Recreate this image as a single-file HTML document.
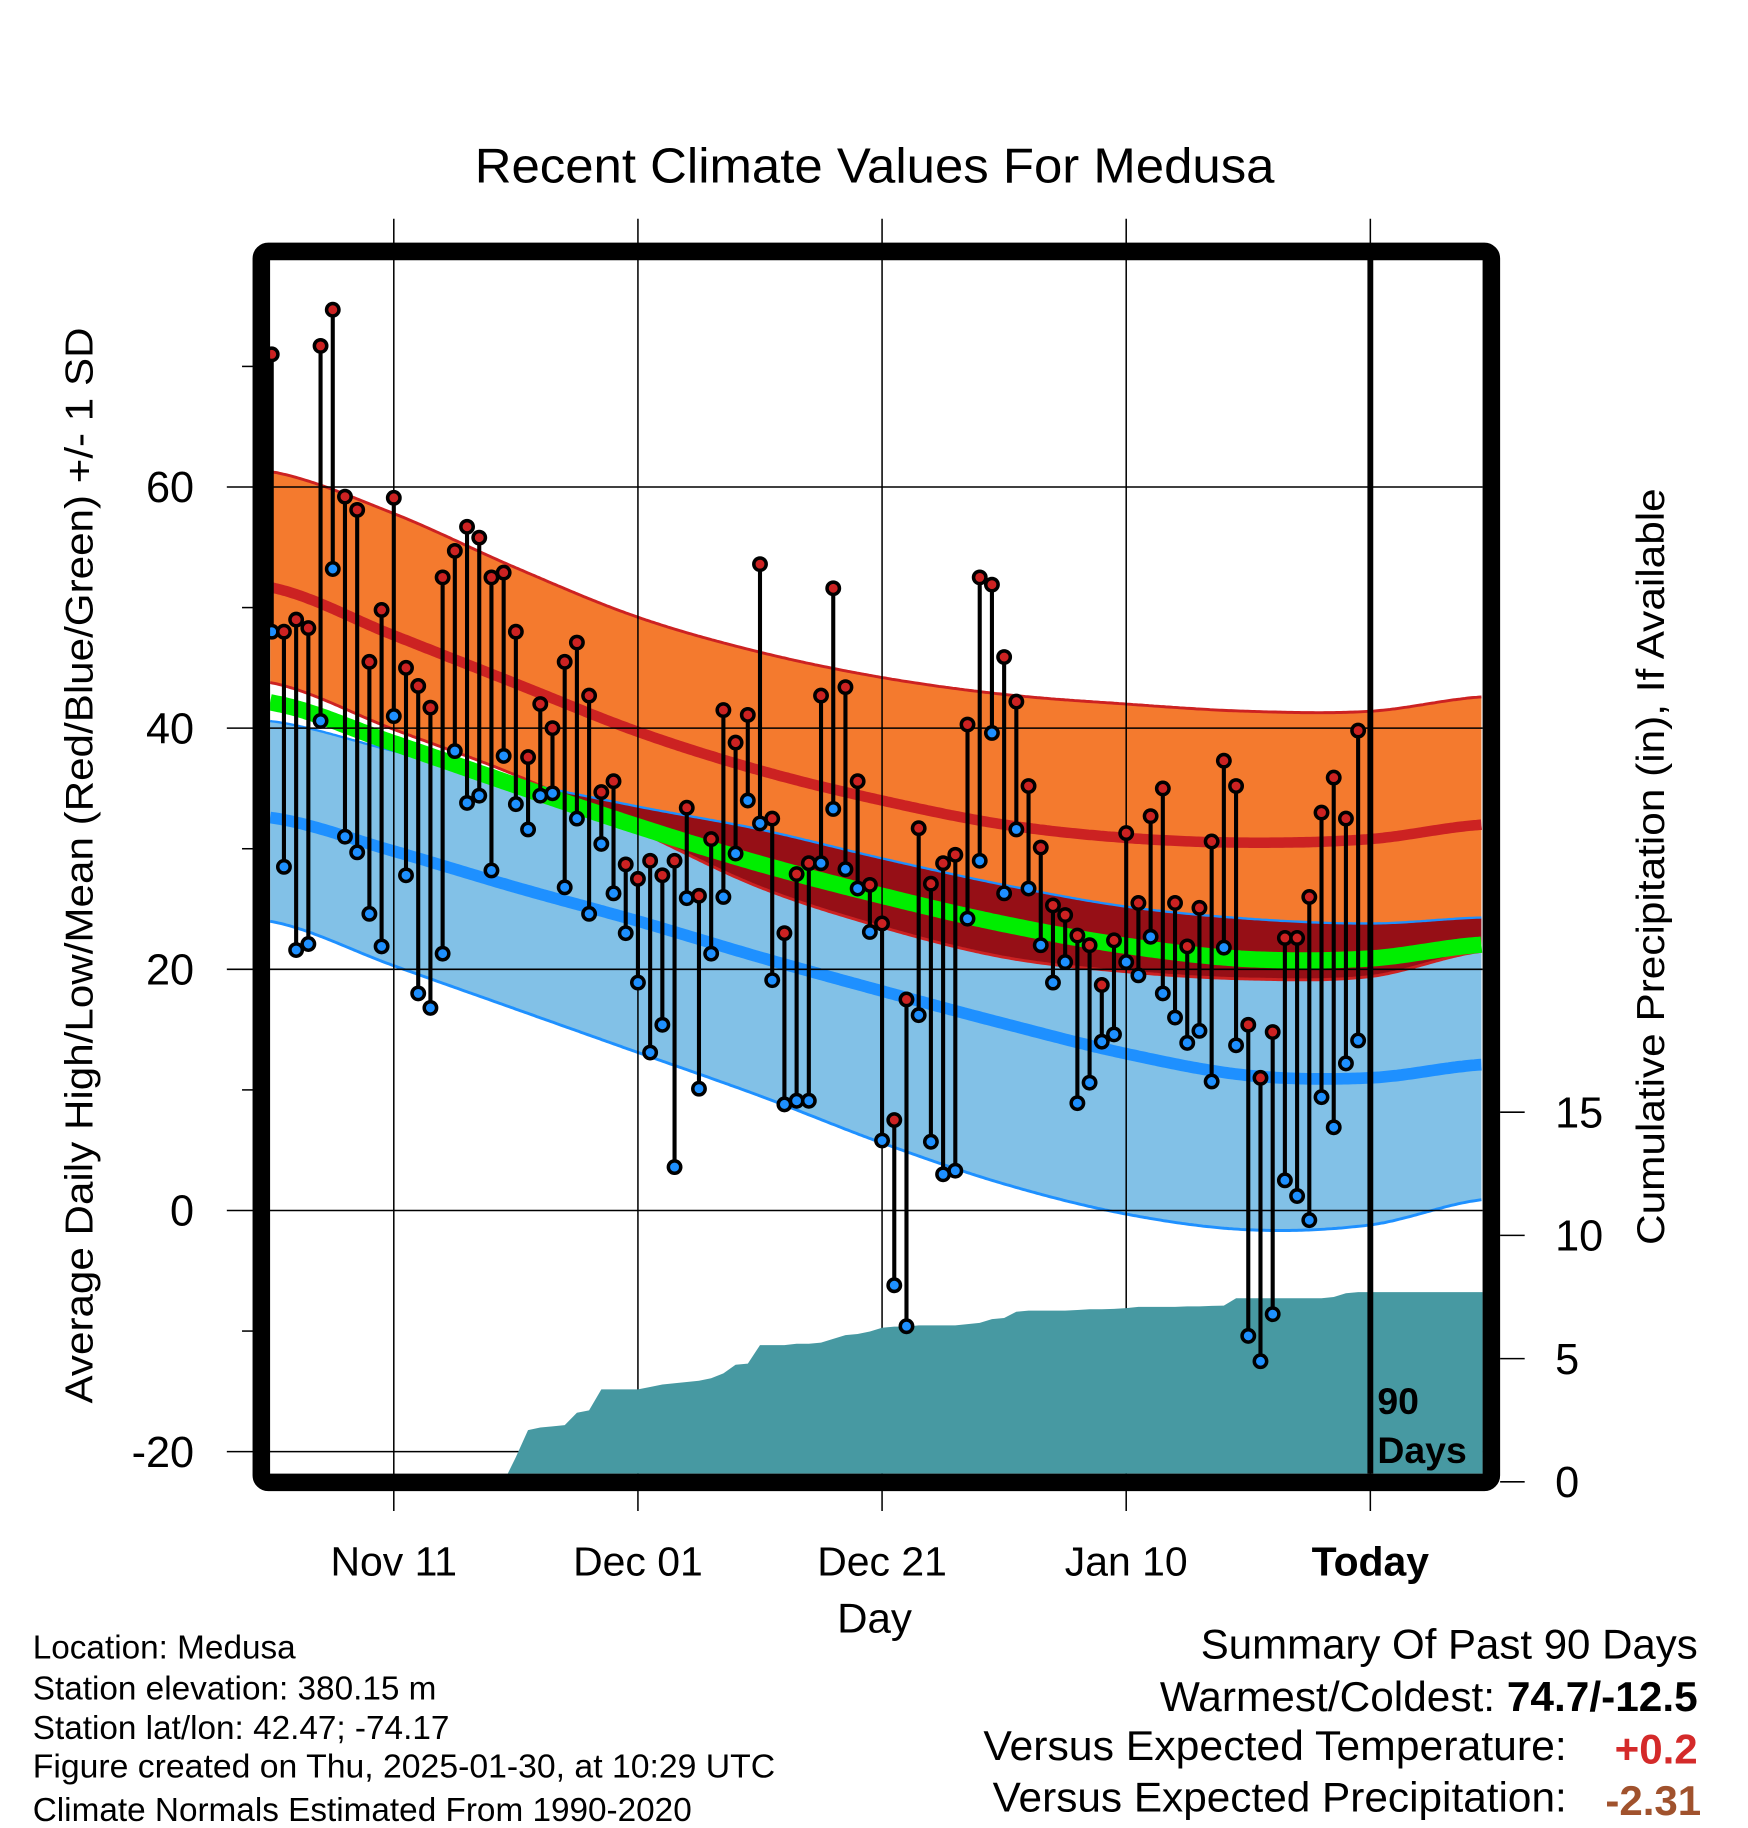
<!DOCTYPE html>
<html><head><meta charset="utf-8">
<style>
html,body{margin:0;padding:0;background:#fff;}
svg{display:block;font-family:"Liberation Sans",Arial,sans-serif;}
</style></head>
<body>
<svg id="chart" xmlns="http://www.w3.org/2000/svg" width="1748" height="1828" viewBox="0 0 1495 1563" preserveAspectRatio="none">
  <g id="bands"></g>
  <g id="grid"></g>
  <g id="precip"></g>
  <g id="marks"></g>
  <rect x="223.5" y="215" width="1052" height="1052.5" rx="6" fill="none" stroke="#000" stroke-width="15"/>
  <g id="labels">
    <text x="748" y="156" font-size="42" text-anchor="middle" textLength="684" lengthAdjust="spacingAndGlyphs">Recent Climate Values For Medusa</text>
    <text transform="translate(79,740) rotate(-90)" font-size="33" text-anchor="middle" textLength="920" lengthAdjust="spacingAndGlyphs">Average Daily High/Low/Mean (Red/Blue/Green) +/- 1 SD</text>
    <text transform="translate(1423,741) rotate(-90)" font-size="33" text-anchor="middle" textLength="647" lengthAdjust="spacingAndGlyphs">Cumulative Precipitation (in), If Available</text>
    <text x="748" y="1396" font-size="36" text-anchor="middle">Day</text>
    <text x="1178" y="1209" font-size="32" font-weight="bold">90</text>
    <text x="1178" y="1251" font-size="32" font-weight="bold">Days</text>
  </g>
  <g font-size="28.5">
    <text x="28" y="1418">Location: Medusa</text>
    <text x="28" y="1453">Station elevation: 380.15 m</text>
    <text x="28" y="1487">Station lat/lon: 42.47; -74.17</text>
    <text x="28" y="1520" textLength="635" lengthAdjust="spacingAndGlyphs">Figure created on Thu, 2025-01-30, at 10:29 UTC</text>
    <text x="28" y="1557">Climate Normals Estimated From 1990-2020</text>
  </g>
  <g font-size="36">
    <text x="1452" y="1418" text-anchor="end" textLength="425" lengthAdjust="spacingAndGlyphs">Summary Of Past 90 Days</text>
    <text x="1452" y="1463" text-anchor="end" textLength="460" lengthAdjust="spacingAndGlyphs">Warmest/Coldest: <tspan font-weight="bold">74.7/-12.5</tspan></text>
    <text x="1340" y="1505" text-anchor="end" textLength="499" lengthAdjust="spacingAndGlyphs">Versus Expected Temperature:</text>
    <text x="1452" y="1508" text-anchor="end" font-weight="bold" fill="#d42a2a">+0.2</text>
    <text x="1340" y="1549" text-anchor="end" textLength="491" lengthAdjust="spacingAndGlyphs">Versus Expected Precipitation:</text>
    <text x="1455" y="1552" text-anchor="end" font-weight="bold" fill="#a0522d">-2.31</text>
  </g>
</svg>
<script>
// ---- data ----
const highs = [71,48,49,48.3,71.7,74.7,59.2,58.1,45.5,49.8,59.1,45,43.5,41.7,52.5,54.7,56.7,55.8,52.5,52.9,48,37.6,42,40,45.5,47.1,42.7,34.7,35.6,28.7,27.5,29,27.8,29,33.4,26.1,30.8,41.5,38.8,41.1,53.6,32.5,23,27.9,28.8,42.7,51.6,43.4,35.6,27,23.8,7.5,17.5,31.7,27.1,28.8,29.5,40.3,52.5,51.9,45.9,42.2,35.2,30.1,25.3,24.5,22.8,22,18.7,22.4,31.3,25.5,32.7,35,25.5,21.9,25.1,30.6,37.3,35.2,15.4,11,14.8,22.6,22.6,26,33,35.9,32.5,39.8];
const lows = [48,28.5,21.6,22.1,40.6,53.2,31,29.7,24.6,21.9,41,27.8,18,16.8,21.3,38.1,33.8,34.4,28.2,37.7,33.7,31.6,34.4,34.6,26.8,32.5,24.6,30.4,26.3,23,18.9,13.1,15.4,3.6,25.9,10.1,21.3,26,29.6,34,32.1,19.1,8.8,9.1,9.1,28.8,33.3,28.3,26.7,23.1,5.8,-6.2,-9.6,16.2,5.7,3,3.3,24.2,29,39.6,26.3,31.6,26.7,22,18.9,20.6,8.9,10.6,14,14.6,20.6,19.5,22.7,18,16,13.9,14.9,10.7,21.8,13.7,-10.4,-12.5,-8.6,2.5,1.2,-0.8,9.4,6.9,12.2,14.1];
const precipCum = [0,0,0,0,0,0,0,0,0,0,0,0,0,0,0,0,0,0,0,0,1.0,2.1,2.2,2.25,2.3,2.8,2.9,3.75,3.75,3.75,3.75,3.85,3.95,4.0,4.05,4.1,4.2,4.4,4.75,4.8,5.55,5.55,5.55,5.6,5.6,5.65,5.8,5.95,6.0,6.1,6.25,6.3,6.3,6.35,6.35,6.35,6.35,6.4,6.45,6.6,6.65,6.9,6.95,6.95,6.95,6.95,6.97,7.0,7.0,7.02,7.05,7.1,7.1,7.1,7.1,7.12,7.12,7.14,7.15,7.45,7.45,7.45,7.45,7.45,7.45,7.45,7.45,7.5,7.65,7.7];
const normDays = [-90.2,-80,-70,-60,-50,-40,-30,-20,-10,0,9.2];
const hiUpper = [61.3,57.8,53.3,49.2,46.3,44.2,42.8,42.0,41.4,41.4,42.6];
const hiMean  = [51.7,47.7,43.7,39.7,36.5,34.0,32.0,30.9,30.5,30.8,32.0];
const hiLower = [43.8,39.9,36.1,31.5,26.8,23.5,21.0,19.8,19.2,19.4,21.5];
const loUpper = [40.6,38.1,35.6,33.5,31.6,29.2,27.0,25.2,24.2,23.8,24.3];
const loMean  = [32.6,29.8,26.8,24.0,21.0,18.2,15.5,13.0,11.2,11.0,12.1];
const loLower = [24.0,20.3,16.7,13.1,9.5,5.6,2.2,-0.3,-1.6,-1.2,0.9];
const yTicks = [60,40,20,0,-20];
const yMinor = [70,50,30,10,-10];
const pTicks = [0,5,10,15];
const xTickDays = [-80,-60,-40,-20,0];
const xTickLabels = ["Nov 11","Dec 01","Dec 21","Jan 10","Today"];

// ---- scales ----
const NS = "http://www.w3.org/2000/svg";
const X0 = 231, X1 = 1268, Y0 = 222, Y1 = 1260;
function xs(d){ return 1172 + d*10.44; }
function ys(v){ return 1035 - v*10.31; }
function ps(p){ return 1267 - p*21.07; }
function mk(tag, attrs, parent){ const e=document.createElementNS(NS,tag); for(const k in attrs) e.setAttribute(k,attrs[k]); parent.appendChild(e); return e; }
function interp(arr, d){
  let i=0; while(i<normDays.length-2 && d>normDays[i+1]) i++;
  const t=(d-normDays[i])/(normDays[i+1]-normDays[i]);
  const p0=arr[Math.max(i-1,0)], p1=arr[i], p2=arr[i+1], p3=arr[Math.min(i+2,arr.length-1)];
  const t2=t*t, t3=t2*t;
  return 0.5*((2*p1)+(-p0+p2)*t+(2*p0-5*p1+4*p2-p3)*t2+(-p0+3*p1-3*p2+p3)*t3);
}
const sampDays=[]; for(let x=X0;x<=X1;x+=2){ sampDays.push((x-1172)/10.44); }
function line(arr){ return sampDays.map(d=>xs(d).toFixed(1)+","+ys(interp(arr,d)).toFixed(1)); }
function band(top,bot){ return line(top).concat(line(bot).reverse()).join(" "); }

const bands=document.getElementById('bands');
let e;
e=mk('polygon',{points:band(hiUpper,hiLower),fill:'#f47a2e'},bands);


e=mk('polygon',{points:band(loUpper,loLower),fill:'#82c1e7'},bands);


const ovTop=sampDays.map(d=>xs(d).toFixed(1)+","+ys(Math.max(interp(loUpper,d),interp(hiLower,d))).toFixed(1));
const ovBot=sampDays.map(d=>xs(d).toFixed(1)+","+ys(interp(hiLower,d)).toFixed(1)).reverse();
e=mk('polygon',{points:ovTop.concat(ovBot).join(" "),fill:'#960f16'},bands);


e=mk('polyline',{points:line(hiUpper).join(" "),fill:'none',stroke:'#cc2222','stroke-width':2.5},bands);


e=mk('polyline',{points:line(hiLower).join(" "),fill:'none',stroke:'#cc2222','stroke-width':2.5},bands);


e=mk('polyline',{points:line(loUpper).join(" "),fill:'none',stroke:'#1e90ff','stroke-width':2},bands);


e=mk('polyline',{points:line(loLower).join(" "),fill:'none',stroke:'#1e90ff','stroke-width':2.5},bands);


const meanAvg=hiMean.map((v,i)=>(v+loMean[i])/2);
e=mk('polyline',{points:line(meanAvg).join(" "),fill:'none',stroke:'#00ee00','stroke-width':14},bands);


e=mk('polyline',{points:line(hiMean).join(" "),fill:'none',stroke:'#cc2222','stroke-width':9},bands);


e=mk('polyline',{points:line(loMean).join(" "),fill:'none',stroke:'#1e90ff','stroke-width':10},bands);



// grid + ticks
const grid=document.getElementById('grid');
const labels=document.getElementById('labels');
yTicks.forEach(v=>{
  e=mk('line',{x1:194,x2:X1,y1:ys(v),y2:ys(v),stroke:'#000','stroke-width':1.3},grid);
  
  
  e=mk('text',{x:166,y:ys(v)+13,'font-size':37,'text-anchor':'end'},labels);
  e.textContent=String(v);
  
  
});
yMinor.forEach(v=>{
  e=mk('line',{x1:207,x2:217,y1:ys(v),y2:ys(v),stroke:'#000','stroke-width':1.3},grid);
  
  
});
xTickDays.forEach((d,i)=>{
  e=mk('line',{x1:xs(d),x2:xs(d),y1:187,y2:1292,stroke:'#000','stroke-width':1.3},grid);
  
  
  e=mk('text',{x:xs(d),y:1347,'font-size':35,'text-anchor':'middle','font-weight':i===4?'bold':'normal'},labels);
  e.textContent=xTickLabels[i];
  
  
});
pTicks.forEach(p=>{
  e=mk('line',{x1:1283,x2:1304,y1:ps(p),y2:ps(p),stroke:'#000','stroke-width':1.3},grid);
  
  
  e=mk('text',{x:1330,y:ps(p)+13,'font-size':37},labels);
  e.textContent=String(p);
  
  
});

// precip
const pg=document.getElementById('precip');
let pts=[];
let started=false;
precipCum.forEach((p,i)=>{
  const d=i-90;
  if(!started && precipCum[i+1]>0){ started=true; }
  if(started) pts.push(xs(d).toFixed(1)+","+ps(p).toFixed(1));
});
const firstIdx=precipCum.findIndex(p=>p>0)-1;
pts.push(X1+","+ps(precipCum[precipCum.length-1]).toFixed(1));
pts.push(X1+","+ps(0)); pts.push(xs(firstIdx-90).toFixed(1)+","+ps(0));
e=mk('polygon',{points:pts.join(" "),fill:'#4799a2'},pg);



// marks
const mg=document.getElementById('marks');
e=mk('line',{x1:1172,x2:1172,y1:Y0,y2:Y1,stroke:'#000','stroke-width':5},mg);


highs.forEach((h,i)=>{
  const x=xs(i-90), l=lows[i];
  e=mk('line',{x1:x,x2:x,y1:ys(h),y2:ys(l),stroke:'#000','stroke-width':3.5},mg);
  
  
  e=mk('circle',{cx:x,cy:ys(l),r:5.3,fill:'#1e90ff',stroke:'#000','stroke-width':3},mg);
  
  
  e=mk('circle',{cx:x,cy:ys(h),r:5.3,fill:'#cc2222',stroke:'#000','stroke-width':3},mg);
  
  
});
const cp=mk('clipPath',{id:'plotclip'},document.getElementById('chart'));
mk('rect',{x:X0,y:Y0,width:X1-X0,height:Y1-Y0},cp);
bands.setAttribute('clip-path','url(#plotclip)');
pg.setAttribute('clip-path','url(#plotclip)');
</script>
</body></html>
